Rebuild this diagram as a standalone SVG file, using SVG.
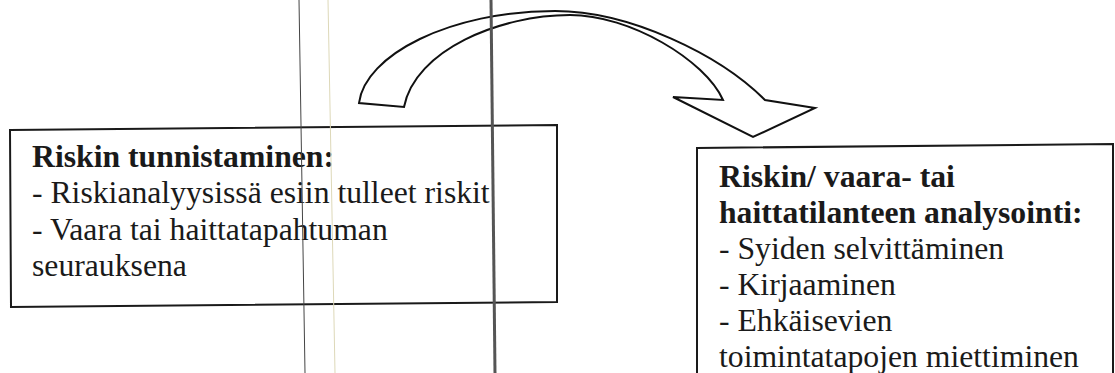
<svg xmlns="http://www.w3.org/2000/svg" width="1115" height="373" viewBox="0 0 1115 373">
<style>
.box{fill:#fff;stroke:#1a1a1a;stroke-width:2}
.t{font-family:"Liberation Serif","Times New Roman",serif;font-size:31.7px;fill:#1a1a1a}
.b{font-weight:bold}
.arrow{fill:none;stroke:#111;stroke-width:2;stroke-linejoin:miter}
</style>
<rect width="1115" height="373" fill="#fff"/>
<g id="node-tunnistaminen">
<polygon class="box" points="10,130 557,125 557,302 11,307"/>
<text class="t b" x="32" y="167">Riskin tunnistaminen:</text>
<text class="t" x="32" y="203">- Riskianalyysissä esiin tulleet riskit</text>
<text class="t" x="32" y="240">- Vaara tai haittatapahtuman</text>
<text class="t" x="32" y="276">seurauksena</text>
</g>
<g id="node-analysointi">
<polygon class="box" points="697,148 1113,144 1113,380 697,380"/>
<text class="t b" x="719" y="187">Riskin/ vaara- tai</text>
<text class="t b" x="719" y="223">haittatilanteen analysointi:</text>
<text class="t" x="719" y="259">- Syiden selvittäminen</text>
<text class="t" x="719" y="295">- Kirjaaminen</text>
<text class="t" x="719" y="331">- Ehkäisevien</text>
<text class="t" x="719" y="367">toimintatapojen miettiminen</text>
</g>
<g id="connectors">
<path class="arrow" d="M359,103 C365,55 450,11 555,11 C630,11 720,55 765,100 L815,108 L753,137 L673,97 L723,100 C705,60 630,15 570,15 C500,15 415,50 404,107 Z"/>
</g>
<g id="scan-lines">
<line x1="299" y1="0" x2="305" y2="373" stroke="#444" stroke-width="1"/>
<line x1="328" y1="0" x2="335" y2="373" stroke="#ddd8b8" stroke-width="1"/>
<line x1="491" y1="0" x2="495" y2="373" stroke="#555" stroke-width="3"/>
</g>
</svg>
